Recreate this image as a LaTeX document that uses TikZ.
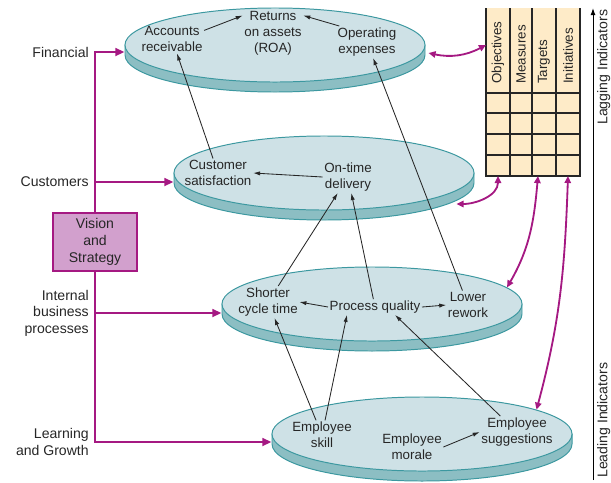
\documentclass[tikz,border=0pt]{standalone}
\usepackage{fontspec}
\setmainfont{Liberation Sans}
\usetikzlibrary{arrows.meta,shapes.geometric,calc}

\definecolor{platetop}{RGB}{206,225,230}
\definecolor{plateside}{RGB}{140,190,195}
\definecolor{plateline}{RGB}{60,152,160}
\definecolor{bscmag}{RGB}{165,25,130}
\definecolor{visionfill}{RGB}{210,160,205}
\definecolor{tabfill}{RGB}{254,235,200}

\newcommand{\disc}[3]{%
  \filldraw[draw=plateline, fill=plateside, line width=0.7pt] (#2-150,#3) -- ++(0,10)
    arc[start angle=180, end angle=0, x radius=150, y radius=37] -- ++(0,-10) -- cycle;
  \node[plate] (#1) at (#2,#3) {};
}

\begin{document}
\begin{tikzpicture}[x=0.025cm, y=-0.025cm,
    plate/.style={ellipse, draw=plateline, fill=platetop, line width=0.7pt, minimum width=7.5cm, minimum height=1.85cm, inner sep=0pt},
    txt/.style={align=center, inner sep=1pt, text=black!85, font=\fontsize{9.5}{11.5}\selectfont},
    lbl/.style={align=right, anchor=east, inner sep=0pt, text=black!85, font=\fontsize{10}{11.7}\selectfont},
    box/.style={rectangle, draw=bscmag, fill=visionfill, line width=1.6pt, minimum width=2.1cm, minimum height=1.45cm, align=center, text=black!85, font=\fontsize{10}{12}\selectfont},
    hdr/.style={rotate=90, anchor=west, inner sep=0pt, text=black!85, font=\fontsize{9.5}{11}\selectfont},
    ind/.style={rotate=90, anchor=north west, inner sep=0pt, text=black!85, font=\fontsize{10}{12}\selectfont},
    arr/.style={-{Latex[length=5pt,width=3pt]}, line width=0.6pt, black!85},
    mag/.style={draw=bscmag, line width=1.7pt},
    magarr/.style={mag, -{Triangle[length=6.5pt,width=5.5pt]}},
    dbl/.style={draw=bscmag, line width=1.3pt, {Triangle[length=5pt,width=4.5pt]}-{Triangle[length=5pt,width=4.5pt]}},
    tabline/.style={line width=0.9pt, black!85},
]
    \useasboundingbox (0,0) rectangle (611,482);

    \disc{fin}{275}{45}
    \disc{cust}{324}{173}
    \disc{proc}{372}{304}
    \disc{learn}{422}{434}

    \node[txt] (ar) at (172,39) {Accounts\\receivable};
    \node[txt] (roa) at (273,33) {Returns\\on assets\\(ROA)};
    \node[txt] (opex) at (367,42) {Operating\\expenses};
    \node[txt] (sat) at (218,173) {Customer\\satisfaction};
    \node[txt] (ontime) at (348,177) {On-time\\delivery};
    \node[txt] (cycle) at (268,302) {Shorter\\cycle time};
    \node[txt] (quality) at (375,307) {Process quality};
    \node[txt] (rework) at (468,305) {Lower\\rework};
    \node[txt] (skill) at (322,435) {Employee\\skill};
    \node[txt] (morale) at (412,447) {Employee\\morale};
    \node[txt] (sugg) at (517,432) {Employee\\suggestions};

    \draw[arr] (ar.15) -- (roa.150);
    \draw[arr] (opex.150) -- (roa.30);
    \draw[arr] (ontime.west) -- (sat.east);
    \draw[arr] (quality.west) -- (cycle.east);
    \draw[arr] (quality.east) -- (rework.west);
    \draw[arr] (morale.east) -- (sugg.west);
    \draw[arr] (sat) -- (ar);
    \draw[arr] (rework) -- (opex);
    \draw[arr] (cycle) -- (ontime);
    \draw[arr] (quality) -- (ontime);
    \draw[arr] (skill) -- (cycle);
    \draw[arr] (skill) -- ([xshift=-0.7cm]quality.south);
    \draw[arr] (sugg) -- ([xshift=0.5cm]quality.south);

    \coordinate (tabnw) at (486,8);
    \coordinate (tabse) at (580,176);
    \fill[tabfill] (tabnw) rectangle (tabse);
    \draw[tabline] (tabnw) -- (tabnw |- tabse) -- (tabse) -- (tabse |- tabnw);
    \foreach \x in {510,532,556} \draw[tabline] (\x,8) -- (\x,176);
    \foreach \y in {93,113,134,155} \draw[tabline] (486,\y) -- (580,\y);
    \node[hdr] (obj) at (498,84) {Objectives};
    \node[hdr] (meas) at (521,84) {Measures};
    \node[hdr] (targ) at (544,84) {Targets};
    \node[hdr] (init) at (568,84) {Initiatives};

    \draw[dbl] ($(fin.east)+(3,8)$) to[bend right=20] (tabnw |- fin.east);
    \draw[dbl] ($(cust.east)+(-18,31)$) to[out=0,in=-90] (obj |- tabse);
    \draw[dbl] ($(targ |- tabse)+(-6,0)$) to[out=-95,in=60] (proc.7);
    \draw[dbl] (init |- tabse) to[out=-92,in=75] (learn.12);

    \coordinate (axbot) at (593,480);
    \coordinate (axtop) at (593,8);
    \draw[-{Latex[length=5pt,width=3.5pt]}, line width=0.7pt] (axbot) -- (axtop);
    \node[ind] (lag) at (597,125) {Lagging Indicators};
    \node[ind] (lead) at (597,478) {Leading Indicators};

    \node[lbl] (lfin) at (89,52) {Financial};
    \node[lbl] (lcust) at (89,182) {Customers};
    \node[lbl] (lproc) at (89,313) {Internal\\business\\processes};
    \node[lbl] (llearn) at (89,442) {Learning\\and Growth};
    \coordinate (trunk) at (95,242);
    \draw[mag, {Triangle[length=6.5pt,width=5.5pt]}-{Triangle[length=6.5pt,width=5.5pt]}] (learn.west |- llearn) -- (trunk |- llearn) -- (trunk |- lfin) -- (fin.west |- lfin);
    \draw[magarr] (trunk |- lcust) -- (cust.west |- lcust);
    \draw[magarr] (trunk |- lproc) -- (proc.west |- lproc);
    \node[box] (vision) at (trunk) {Vision\\and\\Strategy};
\end{tikzpicture}
\end{document}
